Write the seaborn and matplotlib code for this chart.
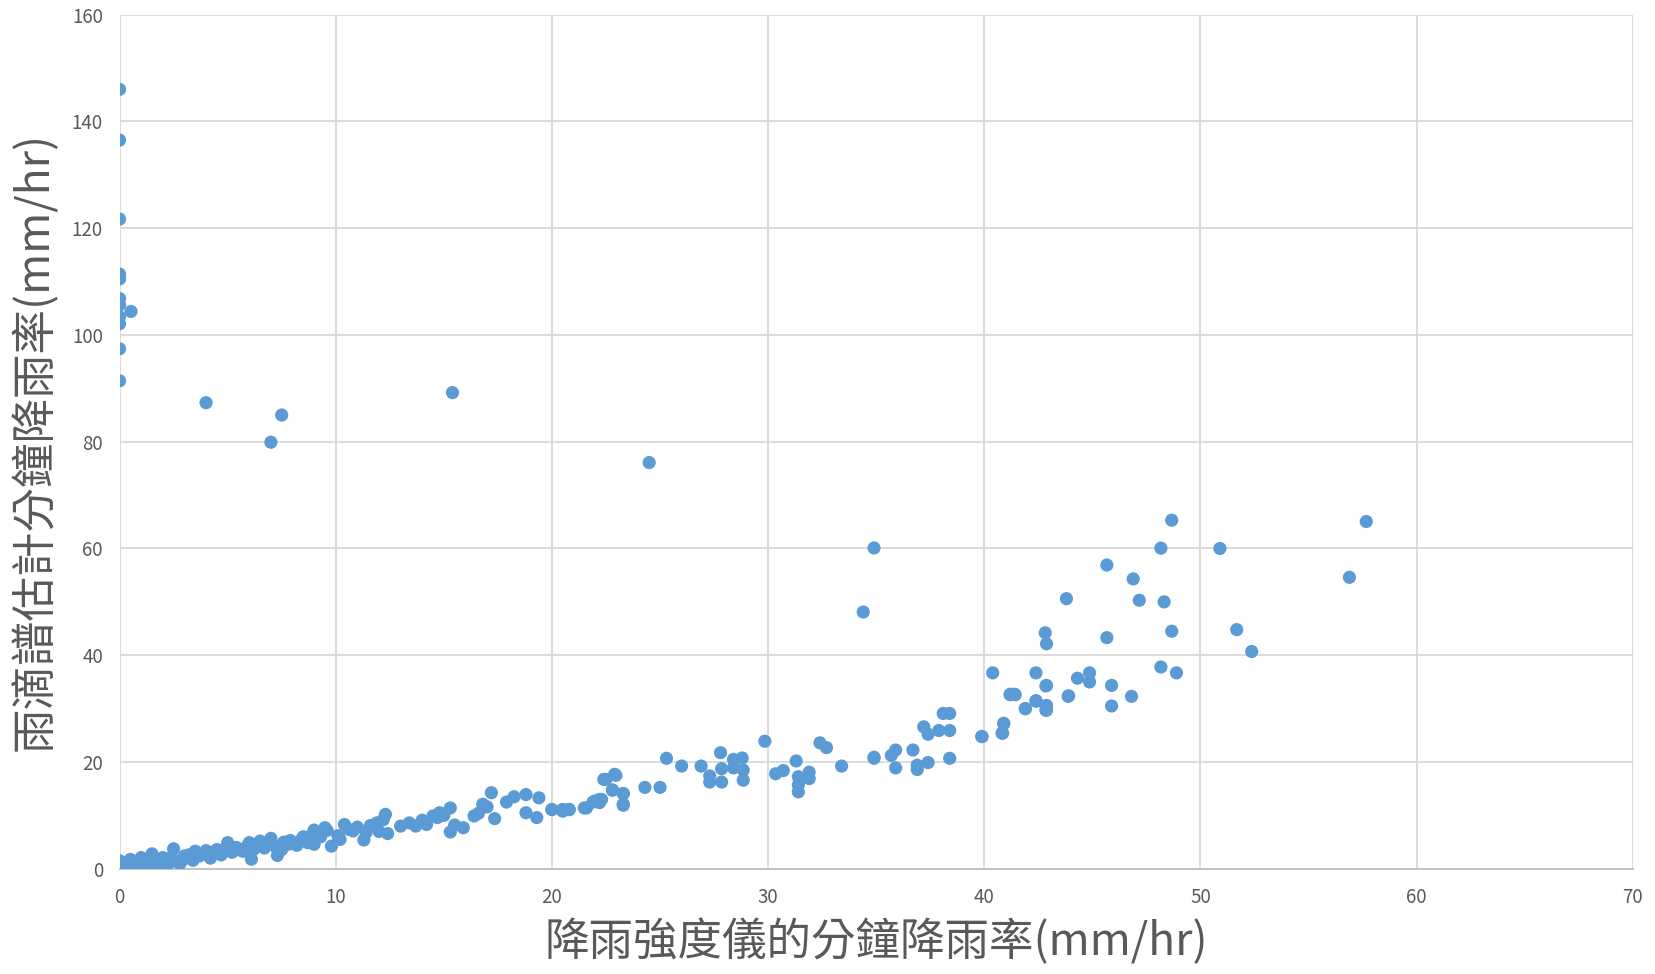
import numpy as np
import pandas as pd
import matplotlib
matplotlib.use('Agg')
import matplotlib.pyplot as plt
import seaborn as sns

# 降雨強度儀 (x) vs 雨滴譜估計 (y), mm/hr
gauge_rate = [
    # outliers at low gauge rate
    0, 0, 0, 0, 0, 0, 0, 0, 0, 0, 0, 0.53,
    4.0, 7.0, 7.5, 15.4, 24.5, 34.4, 34.9,
    # dense band 0-23
    0, 0.08, 0.5, 1.0, 1.5, 2.0, 2.5, 3.0, 3.5, 4.0, 4.5, 5.0, 5.5, 6.0, 6.5,
    7.0, 7.3, 7.8, 8.5, 9.0, 9.5, 9.8, 10.4, 10.8, 11.3, 11.9, 12.3, 12.4,
    13.0, 13.4, 14.0, 14.5, 14.8, 15.3, 15.3, 15.9, 16.4, 16.8, 17.2, 17.35,
    17.9, 18.25, 18.8, 18.8, 19.4, 19.3, 20.0, 20.5, 20.8, 21.5, 21.9, 22.3,
    22.4, 22.9, 22.8, 23.3, 23.3,
    0, 0, 0, 0, 0.2, 0.3, 0.5, 0.7, 0.8, 1.0, 1.2, 1.3, 1.6, 1.8, 2.0, 2.2,
    2.4, 2.6, 2.8, 3.0, 3.2, 3.4, 3.7, 3.9, 4.2, 4.4, 4.7, 4.9, 5.2, 5.4, 5.7,
    5.9, 6.1, 6.2, 6.4, 6.7, 6.9, 7.2, 7.5, 7.6, 7.9, 8.2, 8.4, 8.7, 8.9, 9.0,
    9.3, 9.6, 10.1, 10.2, 10.6, 11.0, 11.4, 11.6, 12.0, 12.2, 13.7, 14.2,
    14.7, 15.0, 15.5, 16.6, 17.0,
    # 20-44
    20.0, 20.5, 20.5, 20.8, 21.6, 22.0, 22.2, 22.2, 22.5, 22.96, 22.8, 23.3,
    23.3, 24.3, 25.0, 25.3, 26.0, 26.9, 27.3, 27.3, 27.8, 27.85, 27.85, 28.4,
    28.4, 28.8, 28.85, 28.85, 29.85, 30.35, 30.7, 31.3, 31.4, 31.4, 31.4,
    31.9, 31.9, 32.4, 32.7, 33.4, 34.9, 34.9, 35.7, 35.9, 35.9, 36.7, 36.9,
    36.9, 37.4, 37.2, 37.4, 37.9, 38.1, 38.4, 38.4, 38.4, 39.9, 40.9, 40.85,
    41.2, 41.4, 41.9, 42.4, 42.85, 42.85, 42.85, 43.9,
    # upper right
    48.67, 48.17, 50.9, 57.67, 56.89, 45.67, 46.89, 43.8, 47.17, 48.32,
    51.68, 52.37, 48.67, 45.67, 42.82, 42.88, 40.39, 42.39, 48.17, 48.89,
    42.88, 44.31, 44.87, 44.87, 45.89, 46.81, 45.89, 43.88, 41.2, 41.43,
    42.39, 41.9, 42.88, 42.88, 40.9, 40.82, 39.88,
]
dsd_rate = [
    146.0, 136.5, 121.7, 111.4, 110.5, 106.8, 105.6, 103.4, 102.1, 97.4, 91.4, 104.4,
    87.3, 79.9, 85.0, 89.2, 76.1, 48.1, 60.1,
    0.5, 1.1, 1.75, 2.1, 2.8, 2.1, 3.75, 2.4, 3.3, 3.4, 3.6, 4.9, 3.6, 4.9, 5.2,
    5.7, 2.5, 4.6, 6.0, 7.25, 7.7, 4.25, 8.3, 7.1, 5.4, 8.6, 10.2, 6.6,
    8.0, 8.6, 9.1, 9.9, 10.5, 11.4, 6.9, 7.7, 9.9, 12.1, 14.25, 9.4,
    12.5, 13.5, 13.9, 10.5, 13.3, 9.6, 11.1, 11.1, 11.1, 11.4, 12.5, 13.0,
    16.75, 17.7, 14.75, 14.1, 12.1,
    0.0, 0.3, 0.8, 1.5, 0.2, 0.6, 0.4, 1.0, 0.3, 0.7, 1.2, 0.5, 1.5, 0.9, 1.6, 0.6,
    2.2, 1.4, 1.0, 1.9, 2.6, 1.6, 2.4, 2.9, 2.0, 3.0, 2.6, 3.8, 3.1, 4.0, 3.3,
    4.2, 1.8, 3.6, 4.6, 3.9, 4.8, 4.2, 3.6, 5.0, 5.3, 4.4, 5.4, 4.9, 6.3, 4.6,
    6.0, 7.2, 6.2, 5.5, 7.4, 7.8, 6.8, 8.1, 7.0, 9.2, 8.0, 8.3,
    9.6, 10.0, 8.2, 10.4, 11.6,
    11.1, 11.1, 10.8, 11.1, 11.4, 12.7, 13.0, 12.4, 16.75, 17.5, 14.75, 14.1,
    11.9, 15.25, 15.25, 20.7, 19.25, 19.25, 17.4, 16.25, 21.75, 18.75, 16.25, 20.5,
    18.9, 20.75, 18.5, 16.6, 23.9, 17.8, 18.4, 20.2, 17.25, 15.7, 14.4,
    18.1, 16.9, 23.6, 22.7, 19.25, 20.9, 20.7, 21.25, 22.25, 18.9, 22.25, 19.4,
    18.6, 19.9, 26.6, 25.2, 25.9, 29.1, 29.1, 25.9, 20.7, 24.75, 27.25, 25.4,
    32.7, 32.7, 30.0, 31.4, 34.25, 30.5, 29.7, 32.4,
    65.3, 60.06, 60.0, 65.05, 54.6, 56.9, 54.3, 50.6, 50.3, 50.0,
    44.8, 40.7, 44.5, 43.3, 44.2, 42.15, 36.7, 36.7, 37.8, 36.7,
    34.35, 35.7, 36.7, 35.0, 34.35, 32.3, 30.5, 32.3, 32.6, 32.6,
    31.5, 30.0, 30.6, 29.7, 27.2, 25.4, 24.8,
]
x_ticks = [0, 10, 20, 30, 40, 50, 60, 70]
y_ticks = [0, 20, 40, 60, 80, 100, 120, 140, 160]

df = pd.DataFrame({'gauge': gauge_rate, 'dsd': dsd_rate})

sns.set_style('whitegrid')
plt.rcParams['font.family'] = ['Noto Sans CJK TC', 'DejaVu Sans']

fig = plt.figure(figsize=(16.56, 9.74), dpi=100)
ax = fig.add_axes([0.0722, 0.108, 0.9138, 0.877])

sns.scatterplot(data=df, x='gauge', y='dsd', color='#5B9BD5', s=90,
                edgecolor='none', linewidth=0, ax=ax, zorder=3)

ax.set_xlim(0, 70)
ax.set_ylim(0, 160)
ax.set_xticks(x_ticks)
ax.set_yticks(y_ticks)
ax.grid(True, color='#D9D9D9', linewidth=1.3)
for side in ['top', 'right', 'left']:
    ax.spines[side].set_visible(False)
ax.spines['bottom'].set_color('#BFBFBF')
ax.spines['bottom'].set_linewidth(1.3)
ax.tick_params(axis='both', length=0, labelsize=13.5, labelcolor='#595959')
ax.tick_params(axis='x', pad=13)
ax.tick_params(axis='y', pad=12)

ax.set_xlabel('降雨強度儀的分鐘降雨率(mm/hr)', fontsize=32, color='#595959')
ax.set_ylabel('雨滴譜估計分鐘降雨率(mm/hr)', fontsize=32, color='#595959')
ax.xaxis.set_label_coords(0.5, -0.058)
ax.yaxis.set_label_coords(-0.041, 0.5)

fig.savefig('out.png', dpi=100)
